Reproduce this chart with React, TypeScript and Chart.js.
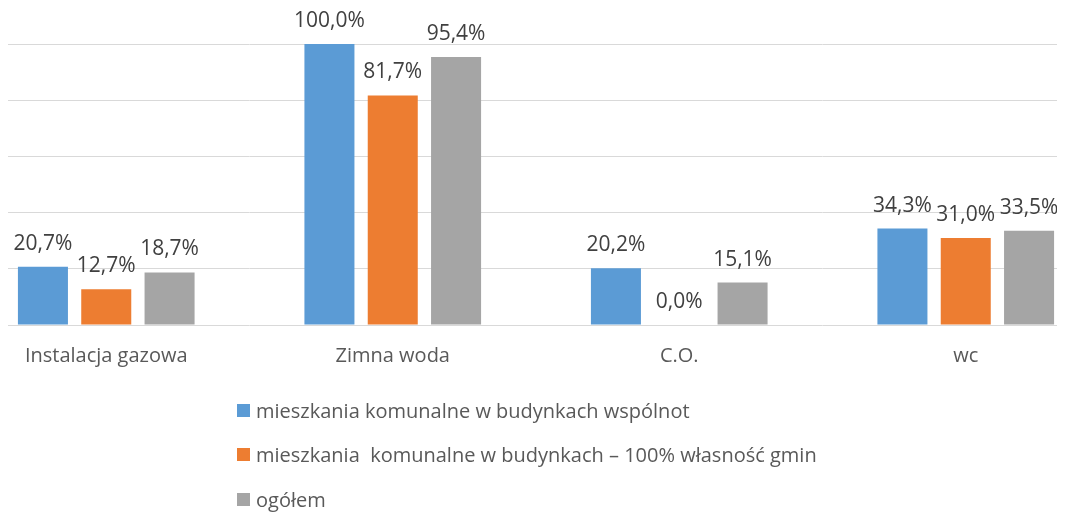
import React, { useEffect, useRef } from "react";
import { Chart, registerables } from "chart.js";

Chart.register(...registerables);

const categories = ["Instalacja gazowa", "Zimna woda", "C.O.", "wc"];
const seriesNames = [
  "mieszkania komunalne w budynkach wspólnot",
  "mieszkania  komunalne w budynkach – 100% własność gmin",
  "ogółem",
];
const wspolnot = [20.7, 100.0, 20.2, 34.3];
const gmin = [12.7, 81.7, 0.0, 31.0];
const ogolem = [18.7, 95.4, 15.1, 33.5];
const colors = ["#5B9BD5", "#ED7D31", "#A5A5A5"];
const yTicks = [0, 20, 40, 60, 80, 100];

const fmt = (v: number) => v.toFixed(1).replace(".", ",") + "%";

const CANVAS_W = 1146;
const CANVAS_H = 504;
const SHIFT_X = 45; // canvas shifted left inside clipping wrapper

const dataLabelPlugin = {
  id: "dataLabels",
  afterDatasetsDraw(chart: any) {
    const ctx = chart.ctx;
    ctx.save();
    ctx.font = "21px 'Open Sans'";
    ctx.fillStyle = "#404040";
    ctx.textAlign = "center";
    ctx.textBaseline = "alphabetic";
    chart.data.datasets.forEach((ds: any, di: number) => {
      const meta = chart.getDatasetMeta(di);
      meta.data.forEach((bar: any, i: number) => {
        ctx.fillText(fmt(ds.data[i]), bar.x, bar.y - 17);
      });
    });
    ctx.restore();
  },
};

const legendPlugin = {
  id: "stackedLegend",
  afterDraw(chart: any) {
    const ctx = chart.ctx;
    const left = 237 - 8 + SHIFT_X;
    const baselines = [410, 454, 499];
    ctx.save();
    ctx.font = "20px 'Open Sans'";
    ctx.textAlign = "left";
    ctx.textBaseline = "alphabetic";
    chart.data.datasets.forEach((ds: any, di: number) => {
      const b = baselines[di];
      ctx.fillStyle = ds.backgroundColor;
      ctx.fillRect(left, b - 14, 13, 13);
      ctx.fillStyle = "#595959";
      ctx.fillText(ds.label, left + 19, b);
    });
    ctx.restore();
  },
};

export default function App() {
  const ref = useRef<HTMLCanvasElement | null>(null);
  useEffect(() => {
    if (!ref.current) return;
    const chart = new Chart(ref.current, {
      type: "bar",
      data: {
        labels: categories,
        datasets: [wspolnot, gmin, ogolem].map((d, i) => ({
          label: seriesNames[i],
          data: d,
          backgroundColor: colors[i],
          borderWidth: 0,
          categoryPercentage: 0.663,
          barPercentage: 0.79,
        })),
      },
      options: {
        responsive: false,
        animation: false,
        devicePixelRatio: 1,
        layout: { padding: { top: 36, bottom: 142, left: 0, right: 0 } },
        plugins: {
          legend: { display: false },
          tooltip: { enabled: false },
        },
        scales: {
          x: {
            offset: true,
            grid: { display: false, drawTicks: false },
            border: { display: false },
            ticks: {
              padding: 19,
              color: "#595959",
              font: { family: "'Open Sans'", size: 20 },
              maxRotation: 0,
              autoSkip: false,
            },
            afterFit: (scale: any) => {
              scale.height = 45;
            },
          },
          y: {
            min: 0,
            max: 100,
            afterBuildTicks: (scale: any) => {
              scale.ticks = yTicks.map((v) => ({ value: v }));
            },
            grid: { color: "#D9D9D9", lineWidth: 1, drawTicks: false },
            border: { display: false },
            ticks: { display: false },
            afterFit: (scale: any) => {
              scale.width = 0;
            },
          },
        },
      },
      plugins: [dataLabelPlugin, legendPlugin],
    });
    return () => chart.destroy();
  }, []);

  return (
    <div
      style={{
        position: "relative",
        width: 1057,
        height: CANVAS_H,
        overflow: "hidden",
        background: "#fff",
      }}
    >
      <canvas
        ref={ref}
        width={CANVAS_W}
        height={CANVAS_H}
        style={{
          position: "absolute",
          left: -SHIFT_X,
          top: 0,
          width: CANVAS_W,
          height: CANVAS_H,
        }}
      />
    </div>
  );
}
